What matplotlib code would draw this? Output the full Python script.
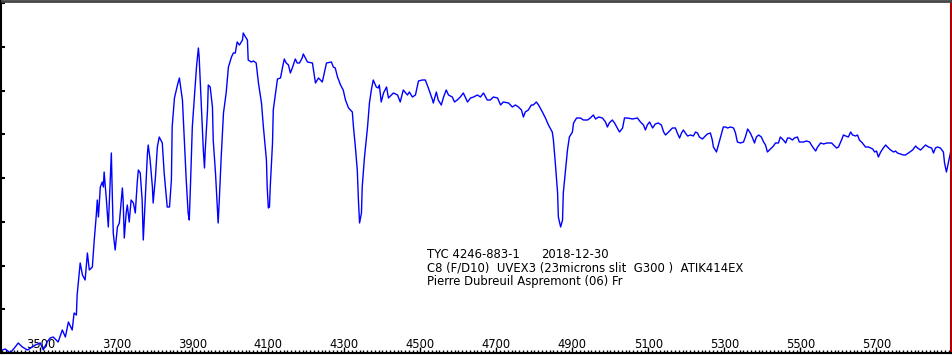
import matplotlib
matplotlib.use("Agg")
import matplotlib.pyplot as plt
from matplotlib.ticker import MultipleLocator
import numpy as np

# Wavelength (Angstrom) and relative flux (arbitrary units)
wavelength = [
    3400, 3408, 3421, 3434, 3442, 3453, 3466, 3479, 3487, 3500, 3508, 3518, 3526, 3534, 3547,
    3558, 3566, 3574, 3584, 3589, 3595, 3597, 3605, 3611, 3618, 3624, 3629, 3637, 3642, 3647,
    3650, 3653, 3658, 3663, 3666, 3668, 3674, 3679, 3682, 3687, 3689, 3692, 3697, 3703, 3708,
    3716, 3718, 3721, 3726, 3729, 3734, 3739, 3745, 3750, 3755, 3758, 3763, 3768, 3771, 3776,
    3782, 3784, 3789, 3795, 3797, 3803, 3808, 3813, 3821, 3826, 3834, 3840, 3845, 3847, 3853,
    3861, 3866, 3874, 3879, 3884, 3889, 3892, 3895, 3900, 3905, 3911, 3916, 3918, 3924, 3929,
    3932, 3934, 3940, 3942, 3947, 3953, 3955, 3961, 3966, 3968, 3971, 3976, 3982, 3989, 3995,
    4003, 4008, 4013, 4018, 4024, 4032, 4034, 4040, 4045, 4047, 4055, 4061, 4068, 4074, 4082,
    4087, 4095, 4097, 4100, 4103, 4105, 4111, 4113, 4121, 4124, 4132, 4137, 4142, 4147, 4153,
    4158, 4163, 4171, 4176, 4182, 4189, 4192, 4203, 4216, 4224, 4232, 4242, 4253, 4266, 4271,
    4276, 4282, 4290, 4297, 4303, 4311, 4321, 4324, 4329, 4334, 4337, 4340, 4345, 4347, 4353,
    4361, 4366, 4371, 4376, 4384, 4389, 4392, 4397, 4403, 4411, 4416, 4424, 4429, 4440, 4447,
    4455, 4466, 4471, 4479, 4487, 4495, 4505, 4513, 4521, 4532, 4534, 4542, 4547, 4555, 4561,
    4568, 4574, 4584, 4590, 4597, 4605, 4613, 4624, 4632, 4640, 4650, 4658, 4666, 4676, 4684,
    4692, 4703, 4711, 4718, 4732, 4742, 4750, 4758, 4766, 4771, 4776, 4784, 4792, 4797, 4805,
    4811, 4821, 4829, 4837, 4847, 4850, 4855, 4861, 4863, 4869, 4874, 4876, 4882, 4887, 4892,
    4900, 4903, 4911, 4921, 4929, 4940, 4947, 4955, 4961, 4969, 4979, 4987, 4992, 4997, 5005,
    5011, 5018, 5024, 5032, 5037, 5045, 5058, 5071, 5079, 5087, 5092, 5097, 5103, 5111, 5118,
    5126, 5134, 5140, 5145, 5153, 5163, 5171, 5176, 5182, 5187, 5192, 5197, 5203, 5211, 5218,
    5224, 5229, 5234, 5242, 5247, 5255, 5263, 5268, 5271, 5279, 5284, 5289, 5297, 5303, 5308,
    5316, 5324, 5329, 5334, 5342, 5350, 5355, 5361, 5368, 5374, 5379, 5384, 5390, 5397, 5403,
    5408, 5413, 5421, 5429, 5434, 5442, 5447, 5455, 5461, 5466, 5471, 5479, 5484, 5492, 5497,
    5508, 5516, 5524, 5532, 5540, 5545, 5553, 5561, 5569, 5574, 5582, 5587, 5595, 5600, 5608,
    5613, 5619, 5626, 5632, 5637, 5645, 5650, 5655, 5663, 5671, 5679, 5690, 5695, 5700, 5705,
    5711, 5718, 5724, 5729, 5737, 5745, 5750, 5755, 5763, 5771, 5776, 5784, 5795, 5803, 5808,
    5816, 5824, 5829, 5837, 5845, 5850, 5855, 5861, 5868, 5876, 5879, 5884, 5889, 5895,
]
flux = [
    3, 4, 0, 6, 10, 6, 3, 6, 8, 10, 3, 11, 15, 16, 11,
    23, 16, 31, 23, 40, 38, 58, 90, 78, 73, 100, 83, 86, 113, 136,
    153, 136, 166, 171, 166, 181, 153, 126, 153, 200, 166, 120, 103, 126, 130,
    165, 153, 115, 140, 148, 131, 153, 150, 140, 170, 183, 180, 153, 113, 153,
    200, 208, 193, 166, 150, 176, 206, 216, 210, 180, 146, 146, 173, 226, 255,
    268, 275, 253, 213, 173, 140, 133, 166, 226, 253, 286, 305, 296, 246, 203,
    185, 203, 243, 268, 266, 246, 213, 180, 143, 130, 153, 196, 240, 260, 286,
    296, 300, 300, 311, 308, 313, 320, 316, 313, 293, 291, 292, 290, 270, 250,
    226, 193, 166, 145, 146, 166, 210, 243, 266, 274, 275, 285, 294, 290, 288,
    280, 285, 294, 290, 290, 295, 299, 291, 290, 270, 275, 271, 290, 291, 286,
    285, 276, 268, 263, 253, 245, 241, 226, 206, 183, 153, 130, 140, 166, 196,
    226, 250, 263, 273, 266, 265, 268, 251, 260, 266, 255, 258, 260, 258, 251,
    263, 258, 261, 256, 258, 272, 273, 273, 265, 253, 250, 261, 253, 248, 256,
    263, 258, 256, 251, 253, 256, 260, 251, 255, 256, 258, 256, 260, 253, 253,
    256, 255, 248, 251, 250, 246, 248, 246, 243, 236, 241, 243, 248, 248, 251,
    248, 241, 235, 228, 221, 213, 190, 160, 136, 126, 133, 160, 183, 203, 216,
    221, 230, 235, 235, 233, 233, 235, 238, 234, 236, 235, 231, 226, 230, 233,
    230, 225, 221, 225, 235, 235, 234, 235, 231, 228, 223, 228, 231, 225, 229,
    230, 228, 221, 218, 221, 225, 225, 220, 215, 220, 223, 220, 217, 218, 217,
    221, 220, 216, 214, 216, 219, 220, 213, 206, 201, 208, 215, 226, 226, 225,
    226, 225, 220, 211, 210, 211, 216, 224, 220, 215, 210, 216, 218, 216, 211,
    208, 201, 204, 207, 210, 210, 216, 213, 210, 215, 215, 213, 215, 216, 211,
    211, 212, 211, 206, 202, 206, 210, 209, 210, 210, 210, 208, 205, 206, 213,
    218, 217, 216, 221, 218, 217, 218, 213, 210, 206, 206, 204, 201, 202, 196,
    201, 205, 208, 206, 203, 201, 202, 200, 199, 198, 198, 200, 203, 207, 205,
    203, 206, 208, 206, 205, 200, 205, 206, 205, 201, 190, 181, 190, 201,
]

x_tick_labels = ["3500", "3700", "3900", "4100", "4300", "4500",
                 "4700", "4900", "5100", "5300", "5500", "5700"]
annotation_lines = [
    "C8 (F/D10)  UVEX3 (23microns slit  G300 )  ATIK414EX",
    "Pierre Dubreuil Aspremont (06) Fr",
]
object_name = "TYC 4246-883-1"
obs_date = "2018-12-30"

W, H = 953, 355
fig = plt.figure(figsize=(W / 100, H / 100), dpi=100)
ax = fig.add_axes([1.5 / W, 2 / H, (951 - 1.5) / W, (353 - 1) / H])

ax.plot(wavelength, flux, color="#0000ff", lw=1.0)

ax.set_xlim(3398, 5896)
ax.set_ylim(0, 352)

ax.set_xticks([int(t) for t in x_tick_labels])
ax.set_xticklabels(x_tick_labels)
ax.xaxis.set_minor_locator(MultipleLocator(10))
ax.yaxis.set_major_locator(MultipleLocator(43.7))
ax.set_yticklabels([])
ax.tick_params(axis="x", which="major", direction="in", length=4, width=1,
               pad=-10.8, labelsize=8.3, colors="black")
ax.tick_params(axis="x", which="minor", direction="in", length=2, width=1)
ax.tick_params(axis="y", which="major", direction="in", length=3, width=1.5,
               labelleft=False)
ax.tick_params(top=False, right=False)

for side in ["left", "bottom"]:
    ax.spines[side].set_color("black")
    ax.spines[side].set_linewidth(1.5)
ax.spines["top"].set_color("#444444")
ax.spines["top"].set_linewidth(2)
ax.spines["right"].set_color("#b00000")
ax.spines["right"].set_linewidth(1.5)

fs = 8.35
fig.text(427 / W, 1 - 258 / H, object_name, fontsize=fs, va="baseline", ha="left")
fig.text(541 / W, 1 - 258 / H, obs_date, fontsize=fs, va="baseline", ha="left")
for i, line in enumerate(annotation_lines):
    fig.text(427 / W, 1 - (271.5 + 13.5 * i) / H, line, fontsize=fs,
             va="baseline", ha="left")

fig.savefig("out.png", dpi=100)
